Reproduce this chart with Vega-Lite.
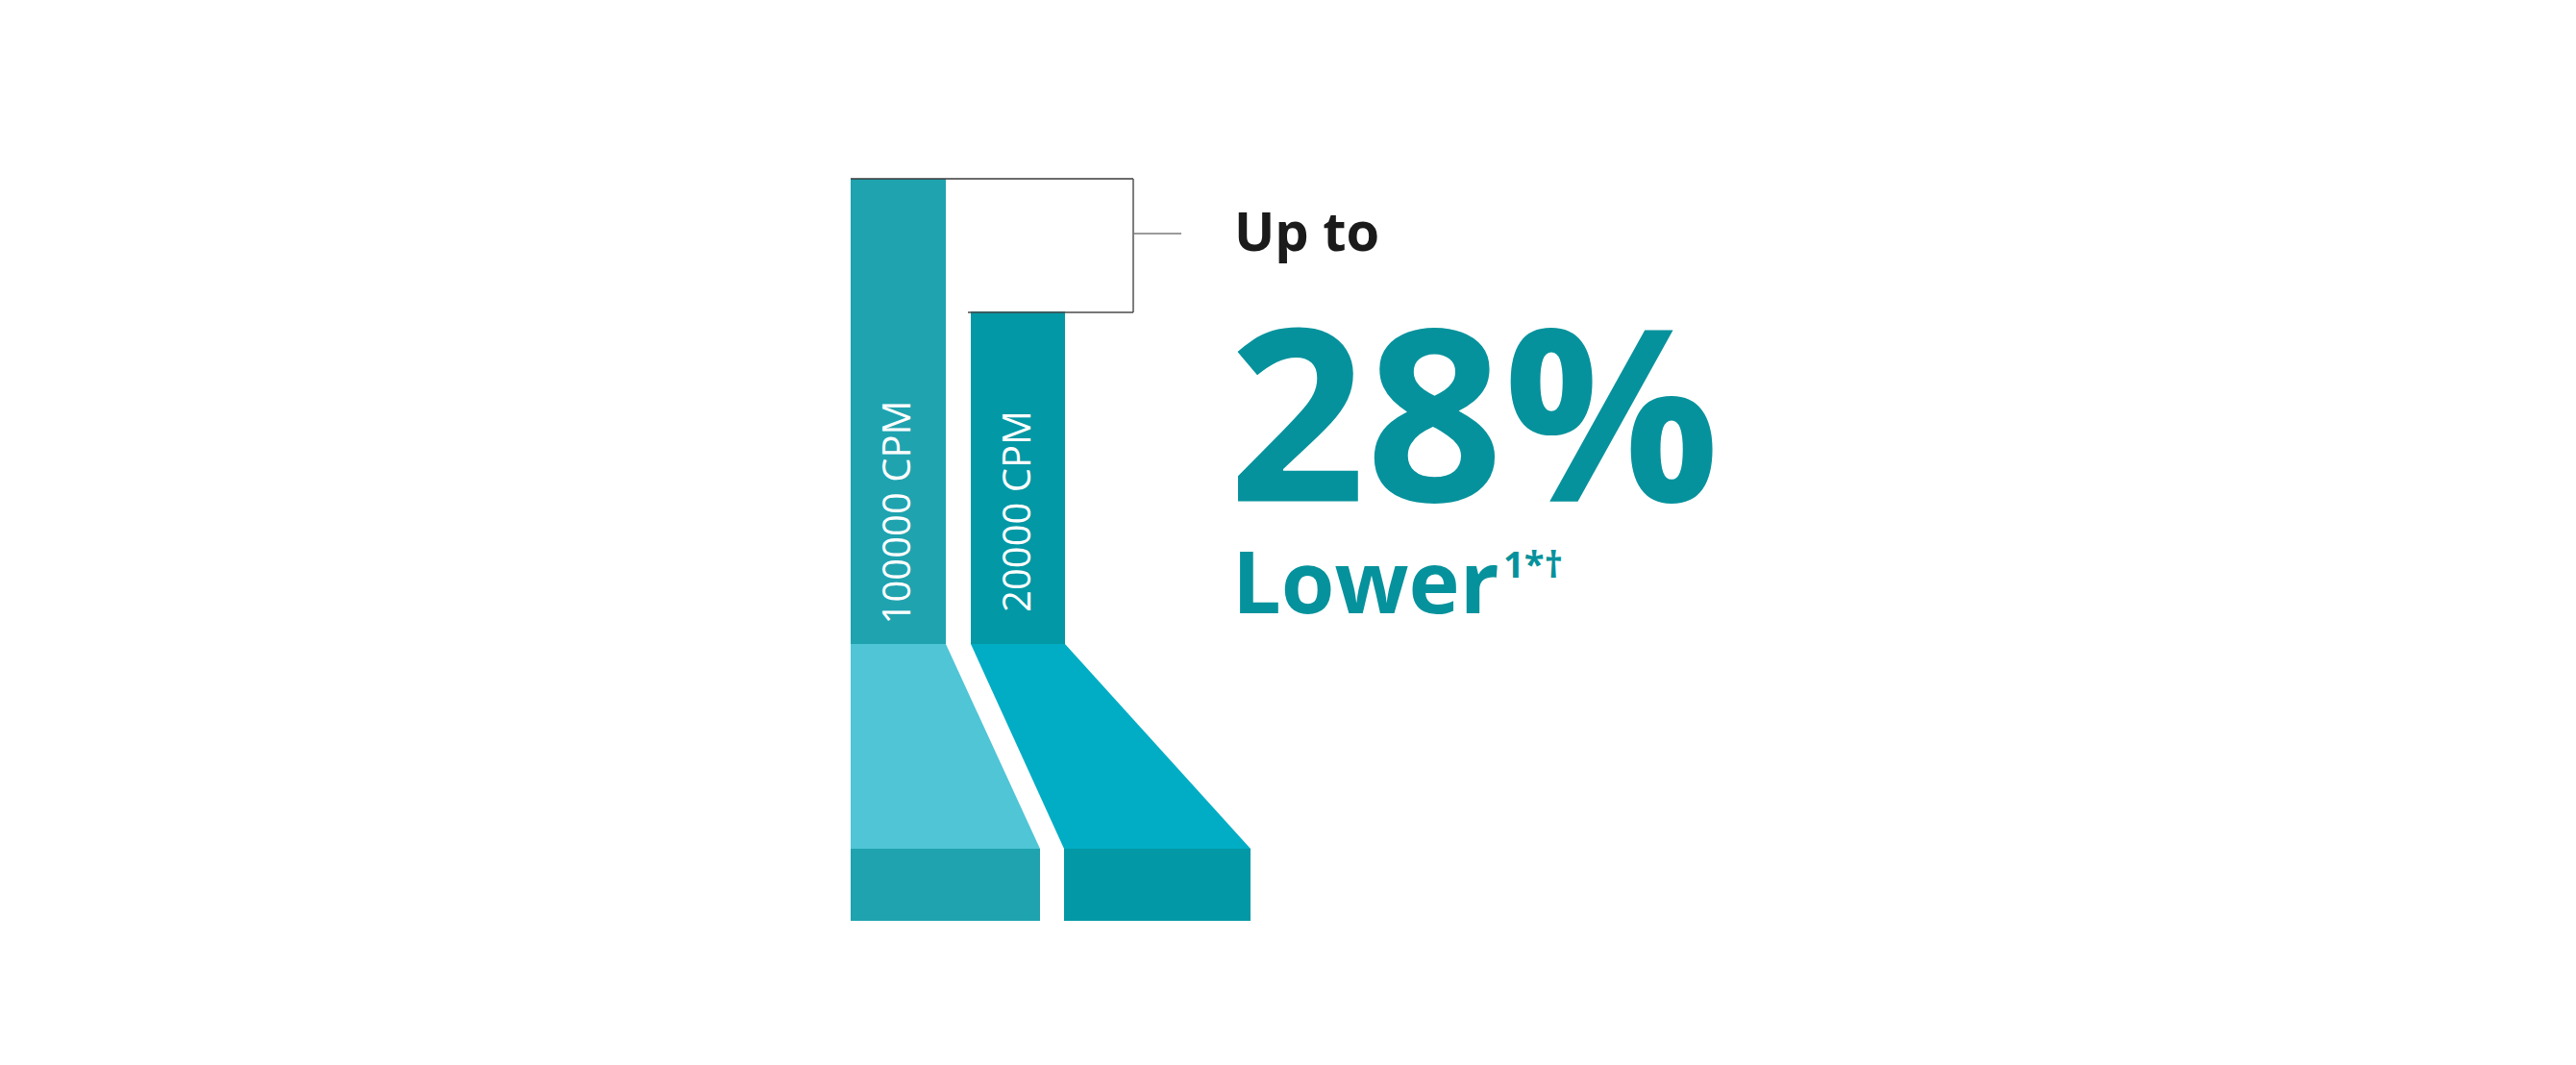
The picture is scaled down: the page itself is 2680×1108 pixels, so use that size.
{
  "$schema": "https://vega.github.io/schema/vega-lite/v6.json",
  "width": 2680,
  "height": 1108,
  "padding": 0,
  "autosize": {"type": "none"},
  "background": "#ffffff",
  "config": {"view": {"stroke": null}},
  "datasets": {
    "blocks": [
      {"part": "100000 CPM top", "x0": 885, "x1": 984, "y0": 186, "y1": 670},
      {"part": "20000 CPM top", "x0": 1010, "x1": 1108, "y0": 324, "y1": 670},
      {"part": "100000 CPM base", "x0": 885, "x1": 1082, "y0": 883, "y1": 958},
      {"part": "20000 CPM base", "x0": 1107, "x1": 1301, "y0": 883, "y1": 958}
    ],
    "slopes": [
      {"part": "100000 CPM slope", "y": 670, "xl": 885, "xr": 984},
      {"part": "100000 CPM slope", "y": 883, "xl": 885, "xr": 1082},
      {"part": "20000 CPM slope", "y": 670, "xl": 1010, "xr": 1108},
      {"part": "20000 CPM slope", "y": 883, "xl": 1107, "xr": 1301}
    ],
    "bracket": [
      {"seg": "top", "x0": 885, "x1": 1179, "y0": 186, "y1": 186},
      {"seg": "side", "x0": 1179, "x1": 1179, "y0": 186, "y1": 325},
      {"seg": "bottom", "x0": 1007, "x1": 1179, "y0": 325, "y1": 325},
      {"seg": "tick", "x0": 1179, "x1": 1229, "y0": 243, "y1": 243}
    ],
    "labels": [
      {"label": "100000 CPM", "x": 935, "y": 533},
      {"label": "20000 CPM", "x": 1060, "y": 532}
    ]
  },
  "encoding": {
    "x": {"type": "quantitative", "scale": {"domain": [0, 2680], "nice": false, "zero": false}, "axis": null},
    "y": {"type": "quantitative", "scale": {"domain": [0, 1108], "reverse": true, "nice": false, "zero": false}, "axis": null}
  },
  "layer": [
    {
      "data": {"name": "blocks"},
      "mark": {"type": "rect"},
      "encoding": {
        "x": {"field": "x0", "type": "quantitative"},
        "x2": {"field": "x1"},
        "y": {"field": "y0", "type": "quantitative"},
        "y2": {"field": "y1"},
        "color": {
          "field": "part",
          "type": "nominal",
          "legend": null,
          "scale": {
            "domain": ["100000 CPM top", "20000 CPM top", "100000 CPM slope", "20000 CPM slope", "100000 CPM base", "20000 CPM base"],
            "range": ["#1fa3af", "#0398a5", "#4fc5d6", "#00adc4", "#1fa3af", "#0398a5"]
          }
        }
      }
    },
    {
      "data": {"name": "slopes"},
      "mark": {"type": "area", "orient": "horizontal"},
      "encoding": {
        "y": {"field": "y", "type": "quantitative"},
        "x": {"field": "xl", "type": "quantitative", "stack": null},
        "x2": {"field": "xr"},
        "color": {"field": "part", "type": "nominal", "legend": null}
      }
    },
    {
      "data": {"name": "bracket"},
      "mark": {"type": "rule", "strokeWidth": 1.6},
      "encoding": {
        "x": {"field": "x0", "type": "quantitative"},
        "x2": {"field": "x1"},
        "y": {"field": "y0", "type": "quantitative"},
        "y2": {"field": "y1"},
        "stroke": {
          "field": "seg",
          "type": "nominal",
          "legend": null,
          "scale": {"domain": ["top", "side", "bottom", "tick"], "range": ["#3a3a3a", "#5e5e5e", "#4a4a4a", "#7a7a7a"]}
        }
      }
    },
    {
      "data": {"name": "labels"},
      "mark": {"type": "text", "angle": 270, "align": "center", "baseline": "middle", "font": "Open Sans", "fontSize": 40, "fontWeight": "normal", "color": "#ffffff"},
      "encoding": {
        "x": {"field": "x", "type": "quantitative"},
        "y": {"field": "y", "type": "quantitative"},
        "text": {"field": "label"}
      }
    },
    {
      "data": {"values": [{"label": "Up to", "x": 1284, "y": 261}]},
      "mark": {"type": "text", "align": "left", "baseline": "alphabetic", "font": "Open Sans", "fontSize": 56, "fontWeight": "bold", "color": "#1b1b1b"},
      "encoding": {
        "x": {"field": "x", "type": "quantitative"},
        "y": {"field": "y", "type": "quantitative"},
        "text": {"field": "label"}
      }
    },
    {
      "data": {"values": [{"label": "28%", "x": 1278, "y": 522}]},
      "mark": {"type": "text", "align": "left", "baseline": "alphabetic", "font": "Open Sans", "fontSize": 250, "fontWeight": "bold", "color": "#06929c"},
      "encoding": {
        "x": {"field": "x", "type": "quantitative"},
        "y": {"field": "y", "type": "quantitative"},
        "text": {"field": "label"}
      }
    },
    {
      "data": {"values": [{"label": "Lower", "x": 1282, "y": 638}]},
      "mark": {"type": "text", "align": "left", "baseline": "alphabetic", "font": "Open Sans", "fontSize": 90, "fontWeight": "bold", "color": "#06929c"},
      "encoding": {
        "x": {"field": "x", "type": "quantitative"},
        "y": {"field": "y", "type": "quantitative"},
        "text": {"field": "label"}
      }
    },
    {
      "data": {"values": [{"label": "1*†", "x": 1564, "y": 601}]},
      "mark": {"type": "text", "align": "left", "baseline": "alphabetic", "font": "Open Sans", "fontSize": 38, "fontWeight": "bold", "color": "#06929c"},
      "encoding": {
        "x": {"field": "x", "type": "quantitative"},
        "y": {"field": "y", "type": "quantitative"},
        "text": {"field": "label"}
      }
    }
  ]
}
